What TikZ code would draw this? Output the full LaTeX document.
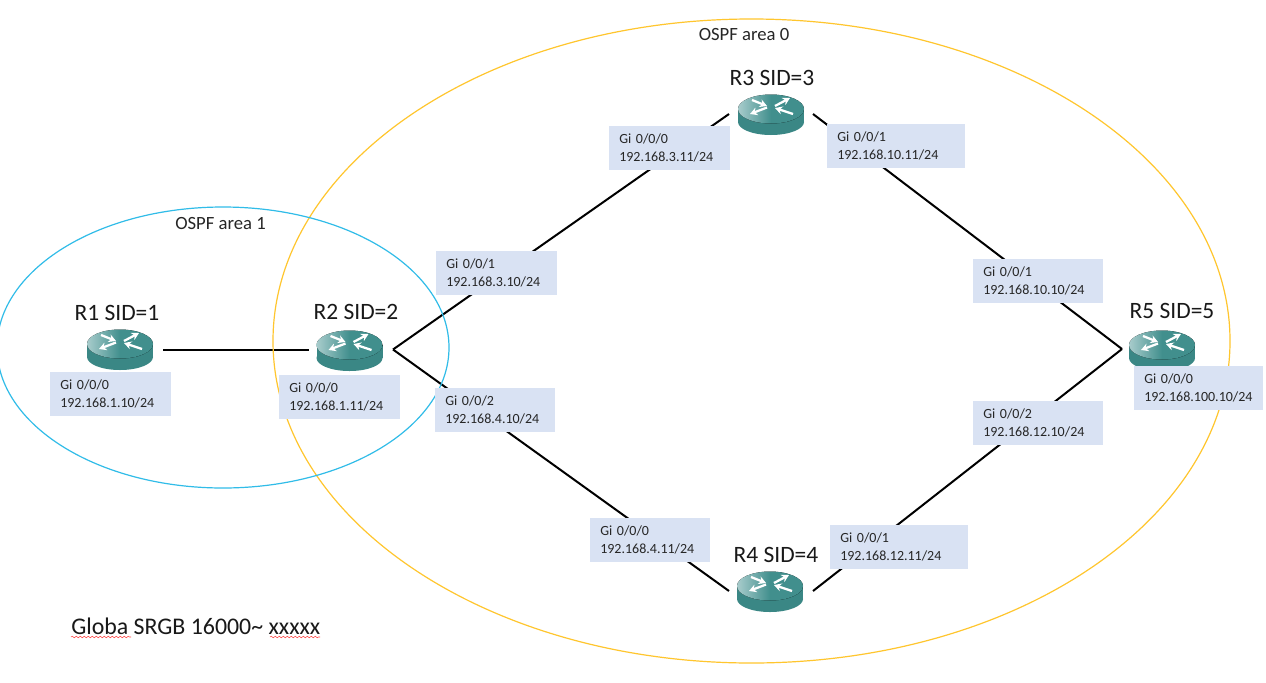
\documentclass[tikz,border=0pt]{standalone}
\usepackage{fontspec}
\setmainfont{Carlito}
\usetikzlibrary{decorations.pathmorphing,arrows.meta}
\definecolor{boxfill}{HTML}{D9E2F3}
\definecolor{areaYellow}{HTML}{FFC62E}
\definecolor{areaBlue}{HTML}{30BCE8}
\definecolor{rtop}{HTML}{418F8D}
\definecolor{rtoplight}{HTML}{A8CCCC}
\definecolor{rside}{HTML}{3A8785}
\tikzset{
  x=0.75pt,y=-0.75pt,
  link/.style={line width=1.5pt,black},
  area/.style={line width=0.9pt},
  portbox/.style={fill=boxfill,anchor=north west,minimum height=32.5pt,inner xsep=0pt,inner ysep=0pt,
     align=left,font=\fontsize{10.5pt}{14.2pt}\selectfont,text=black!85},
  routernode/.style={minimum width=63pt,minimum height=6pt,inner sep=0pt,outer sep=0pt},
  title/.style={font=\fontsize{17.6pt}{20pt}\selectfont,text=black!90},
  arealabel/.style={font=\fontsize{14pt}{16pt}\selectfont,text=black!85},
  squiggle/.style={red!75,line width=0.4pt,decorate,decoration={snake,amplitude=0.55pt,segment length=3pt}},
  rarrow/.style={white,line width=1.7pt,-{Stealth[length=5.5pt,width=6pt]}},
  pics/routerpic/.style={code={
    \fill[rside] (-33,0) rectangle (33,13);
    \fill[rside] (0,13) ellipse[x radius=33,y radius=13];
    \fill[left color=rtoplight,right color=rtop,middle color=rtop] (0,0) ellipse[x radius=33,y radius=14.5];
    \draw[rarrow] (-19,-9) -- (-4,-3);
    \draw[rarrow] (4,-3) -- (19,-11);
    \draw[rarrow] (-4,-1.5) -- (-21,5);
    \draw[rarrow] (22,5) -- (4,-1);
  }}
}
\begin{document}
\begin{tikzpicture}
\useasboundingbox (0,0) rectangle (1266,682);
\fill[white] (0,0) rectangle (1266,682);

% routers (anchors give the gaps that the links leave)
\node[routernode,minimum width=66pt] (R1) at (119,349.5) {};
\node[routernode] (R2) at (351,349.5) {};
\node[routernode] (R3) at (771,114) {};
\node[routernode] (R4) at (771,591) {};
\node[routernode] (R5) at (1164,349) {};

% links
\draw[link] (R1.east) -- (R2.west);
\draw[link] (R2.east) -- (R3.west);
\draw[link] (R2.east) -- (R4.west);
\draw[link] (R3.east) -- (R5.west);
\draw[link] (R4.east) -- (R5.west);

% areas
\begin{scope}
\clip (0,0) rectangle (1266,682);
\draw[area,areaYellow] (751.5,341) ellipse[x radius=478.5,y radius=322];
\draw[area,areaBlue] (223,347.5) ellipse[x radius=226,y radius=140.5];
\end{scope}

% router icons
\pic at (120,344) {routerpic};
\pic at (349.5,345) {routerpic};
\pic at (771,109) {routerpic};
\pic at (770,586) {routerpic};
\pic at (1162,345) {routerpic};

% port boxes
\def\portrow#1#2#3#4#5#6{\node[portbox,minimum width=#4pt,text width=#4pt] (#1) at (#2,#3) {\hspace*{7.5pt}#5\\\hspace*{7.5pt}#6};}
\portrow{p1}{50}{372}{90.7}{Gi 0/0/0}{192.168.1.10/24}
\portrow{p2}{279}{375}{90.7}{Gi 0/0/0}{192.168.1.11/24}
\portrow{p3}{436}{251}{90.7}{Gi 0/0/1}{192.168.3.10/24}
\portrow{p4}{435}{388}{90}{Gi 0/0/2}{192.168.4.10/24}
\portrow{p5}{609}{126}{90.4}{Gi 0/0/0}{192.168.3.11/24}
\portrow{p6}{827}{124}{103.5}{Gi 0/0/1}{192.168.10.11/24}
\portrow{p7}{973}{259}{97.5}{Gi 0/0/1}{192.168.10.10/24}
\portrow{p8}{973}{401}{97.5}{Gi 0/0/2}{192.168.12.10/24}
\portrow{p9}{590}{518}{90}{Gi 0/0/0}{192.168.4.11/24}
\portrow{p10}{830}{525}{103}{Gi 0/0/1}{192.168.12.11/24}
\portrow{p11}{1134}{366}{96.7}{Gi 0/0/0}{192.168.100.10/24}

% titles
\node[title] (t1) at (117,313) {R1 SID=1};
\node[title] (t2) at (356,312) {R2 SID=2};
\node[title] (t3) at (772,78) {R3 SID=3};
\node[title] (t4) at (776,555) {R4 SID=4};
\node[title] (t5) at (1172,311) {R5 SID=5};
\node[arealabel] (a0) at (744,35) {OSPF area 0};
\node[arealabel] (a1) at (220.5,224) {OSPF area 1};
\node[anchor=west,inner sep=0pt,font=\fontsize{17.9pt}{20pt}\selectfont,text=black!90] (g) at (71,626) {Globa SRGB 16000\textasciitilde{} xxxxx};

% spell-check underlines
\coordinate (u1a) at (71,637); \coordinate (u1b) at (131,637);
\coordinate (u2a) at (270,637); \coordinate (u2b) at (320,637);
\draw[squiggle] (u1a) -- (u1b);
\draw[squiggle] (u2a) -- (u2b);
\end{tikzpicture}
\end{document}
